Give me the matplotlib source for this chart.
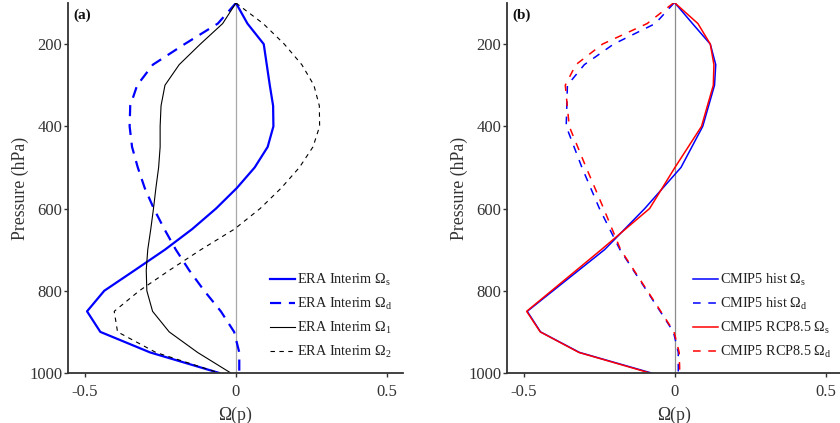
import matplotlib
matplotlib.use("Agg")
import matplotlib.pyplot as plt

plt.rcParams['font.family'] = ['Liberation Serif', 'DejaVu Serif']
plt.rcParams['mathtext.fontset'] = 'custom'
plt.rcParams['mathtext.rm'] = 'Liberation Serif'
plt.rcParams['mathtext.it'] = 'Liberation Serif:italic'

# ERA Interim profiles
era_p = [100, 150, 200, 250, 300, 350, 400, 450, 500, 550,
         600, 650, 700, 750, 800, 850, 900, 950, 1000]
era_s = [0.0, 0.038, 0.092, 0.102, 0.112, 0.123, 0.124, 0.105, 0.062, 0.003,
         -0.066, -0.145, -0.235, -0.335, -0.436, -0.493, -0.449, -0.284, -0.055]
era_d = [0.0, -0.06, -0.17, -0.275, -0.327, -0.35, -0.352, -0.344, -0.325, -0.302,
         -0.272, -0.237, -0.199, -0.155, -0.105, -0.05, -0.006, 0.011, 0.011]
era_1 = [0.0, -0.044, -0.118, -0.188, -0.235, -0.248, -0.251, -0.251, -0.256, -0.265,
         -0.273, -0.282, -0.292, -0.297, -0.295, -0.276, -0.221, -0.127, -0.017]
era_2 = [0.0, 0.09, 0.16, 0.218, 0.258, 0.276, 0.277, 0.255, 0.21, 0.15,
         0.08, -0.005, -0.116, -0.22, -0.32, -0.403, -0.392, -0.265, -0.055]

# CMIP5 multi-model profiles
cmip_p = [100, 150, 200, 250, 300, 400, 500, 600, 700, 850, 900, 950, 1000]
hist_s = [0.0, 0.058, 0.117, 0.135, 0.131, 0.092, 0.02, -0.1, -0.233,
          -0.489, -0.445, -0.316, -0.078]
hist_d = [-0.003, -0.065, -0.203, -0.30, -0.356, -0.36, -0.308, -0.25, -0.182,
          -0.049, -0.005, 0.011, 0.011]
rcp_s = [0.0, 0.076, 0.117, 0.129, 0.127, 0.088, 0.0, -0.084, -0.244,
         -0.491, -0.446, -0.318, -0.083]
rcp_d = [-0.005, -0.092, -0.24, -0.328, -0.363, -0.35, -0.294, -0.236, -0.18,
         -0.047, -0.003, 0.014, 0.016]

xticks = [-0.5, 0, 0.5]
xtick_labels = ['-0.5', '0', '0.5']
yticks = [200, 400, 600, 800, 1000]

W, H = 840, 423
fig = plt.figure(figsize=(W / 100, H / 100), dpi=100)

ax_a = fig.add_axes([68 / W, 1 - 373 / H, 335 / W, 370 / H])
ax_b = fig.add_axes([507 / W, 1 - 373 / H, 335 / W, 370 / H])

spine_col = '#333333'
text_col = '#333333'


def style(ax, label, zero_col):
    ax.set_xlim(-0.556, 0.553)
    ax.set_ylim(1000, 100)
    ax.axvline(0, color=zero_col, lw=0.9, zorder=1)
    for s in ('top', 'right'):
        ax.spines[s].set_visible(False)
    for s in ('left', 'bottom'):
        ax.spines[s].set_color(spine_col)
        ax.spines[s].set_linewidth(1.3)
    ax.set_xticks(xticks)
    ax.set_xticklabels(xtick_labels)
    ax.set_yticks(yticks)
    ax.tick_params(direction='out', length=3, width=1, colors=spine_col,
                   labelsize=12, labelcolor=text_col)
    ax.tick_params(axis='y', pad=1)
    ax.tick_params(axis='x', pad=5)
    ax.set_xlabel('Ω(p)', fontsize=12.8, color=text_col, labelpad=5)
    ax.set_ylabel('Pressure (hPa)', fontsize=12.8, color=text_col, labelpad=0)
    ax.text(0.015, 0.985, label, transform=ax.transAxes, fontsize=11,
            fontweight='bold', va='top', ha='left', color='#111111')


style(ax_a, '(a)', '#a8a8a8')
style(ax_b, '(b)', '#8c8c8c')

# panel (a)
ax_a.plot(era_s, era_p, color='#0000ff', lw=1.6, label=r'ERA Interim Ω$_{\rm s}$')
ax_a.plot(era_d, era_p, color='#0000ff', lw=1.6, ls=(0, (5, 3.5)),
          label=r'ERA Interim Ω$_{\rm d}$')
ax_a.plot(era_1, era_p, color='black', lw=0.8, label=r'ERA Interim Ω$_{\rm 1}$')
ax_a.plot(era_2, era_p, color='black', lw=0.8, ls=(0, (4, 4)),
          label=r'ERA Interim Ω$_{\rm 2}$')

# panel (b)
ax_b.plot(hist_s, cmip_p, color='#0000ff', lw=1.1, label=r'CMIP5 hist Ω$_{\rm s}$')
ax_b.plot(hist_d, cmip_p, color='#0000ff', lw=1.1, ls=(0, (5, 5)),
          label=r'CMIP5 hist Ω$_{\rm d}$')
ax_b.plot(rcp_s, cmip_p, color='#ff0000', lw=1.1, label=r'CMIP5 RCP8.5 Ω$_{\rm s}$')
ax_b.plot(rcp_d, cmip_p, color='#ff0000', lw=1.1, ls=(0, (5, 5)),
          label=r'CMIP5 RCP8.5 Ω$_{\rm d}$')

for ax, anchor in ((ax_a, (270 / W, 1 - 360 / H)), (ax_b, (693 / W, 1 - 360 / H))):
    ax.legend(loc='lower left', bbox_to_anchor=anchor, bbox_transform=fig.transFigure,
              frameon=False, fontsize=10.3, handlelength=1.75,
              handletextpad=0.15, labelspacing=0.55, borderpad=0, borderaxespad=0,
              labelcolor='#222222')

fig.savefig('out.png', dpi=100)
